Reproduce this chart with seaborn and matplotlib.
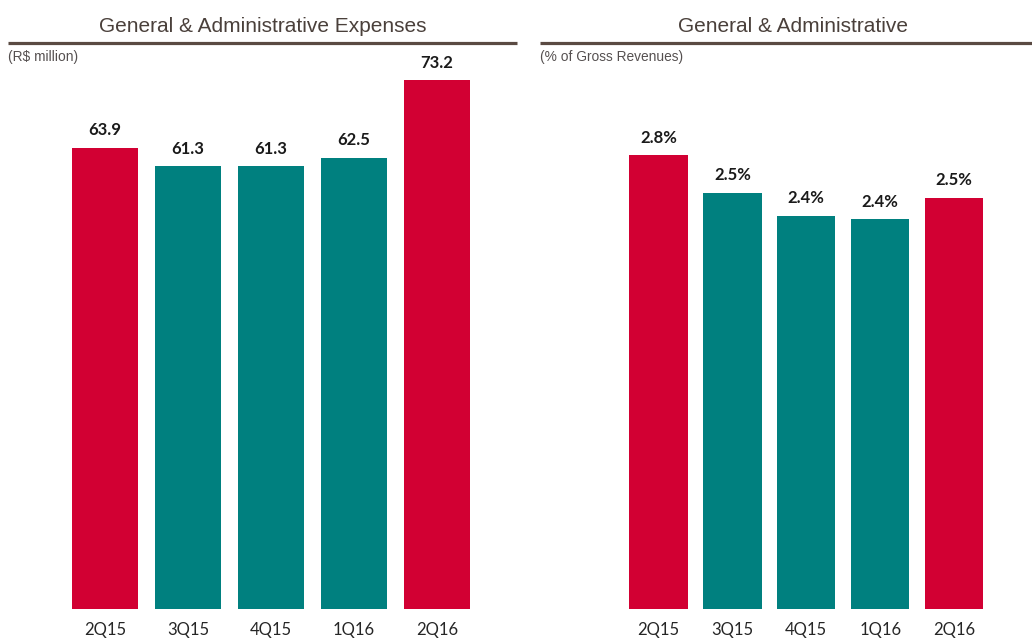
import matplotlib
matplotlib.use("Agg")
import matplotlib.pyplot as plt
from matplotlib.lines import Line2D
import seaborn as sns
import pandas as pd

quarters = ["2Q15", "3Q15", "4Q15", "1Q16", "2Q16"]
ga_expenses = [63.9, 61.3, 61.3, 62.5, 73.2]          # R$ million
ga_pct_revenue = [2.76, 2.53, 2.39, 2.37, 2.50]        # % of gross revenues
highlight = [True, False, False, False, True]

RED = "#D20033"
TEAL = "#00807F"
TITLE_COLOR = "#4A403B"
RULE_COLOR = "#5A4A42"
SUB_COLOR = "#555050"

sns.set_theme(style="white")
plt.rcParams["font.family"] = ["Liberation Sans", "DejaVu Sans"]

W, H = 1032, 639
fig = plt.figure(figsize=(W / 100, H / 100), dpi=100)


def px_x(x):
    return x / W


def px_y(y):
    return 1 - y / H


def panel(left_px, right_px, centre0_px, step_px, values, ymax, fmt,
          title, title_x, subtitle, width):
    ax = fig.add_axes([px_x(left_px), px_y(609), px_x(right_px - left_px), 609 / H])
    df = pd.DataFrame({"quarter": quarters, "value": values,
                       "kind": ["hl" if h else "base" for h in highlight]})
    sns.barplot(data=df, x="quarter", y="value", hue="kind",
                palette={"hl": RED, "base": TEAL}, width=width,
                dodge=False, legend=False, ax=ax, saturation=1,
                linewidth=0)
    ax.set_xlim((left_px - centre0_px) / step_px, (right_px - centre0_px) / step_px)
    ax.set_ylim(0, ymax)
    for s in ax.spines.values():
        s.set_visible(False)
    ax.set_yticks([])
    ax.set_xlabel("")
    ax.set_ylabel("")
    ax.tick_params(axis="x", length=0, pad=9)
    for lbl in ax.get_xticklabels():
        lbl.set_fontfamily(["Lato", "DejaVu Sans"])
        lbl.set_fontsize(12)
        lbl.set_color("#262626")
    for i, v in enumerate(values):
        ax.annotate(fmt(v), (i, v), xytext=(0, 12.5), textcoords="offset points",
                    ha="center", va="center", fontsize=12, fontweight="bold",
                    family=["Lato", "DejaVu Sans"], color="#1A1A1A",
                    annotation_clip=False)
    # panel heading with rule underneath
    fig.text(px_x(title_x), px_y(26), title,
             ha="center", va="center", fontsize=15, color=TITLE_COLOR)
    fig.add_artist(Line2D([px_x(left_px), px_x(right_px)], [px_y(42.7), px_y(42.7)],
                          color=RULE_COLOR, linewidth=2.3, solid_capstyle="butt"))
    fig.text(px_x(left_px), px_y(57), subtitle, ha="left", va="center",
             fontsize=9.9, color=SUB_COLOR)
    return ax


panel(8, 517, 105, 83, ga_expenses, 609 / 7.22, lambda v: f"{v:.1f}",
      "General & Administrative Expenses", 263, "(R$ million)", 0.795)
panel(540, 1032, 658.5, 73.9, ga_pct_revenue, 609 / 164.5, lambda v: f"{v:.1f}%",
      "General & Administrative", 793, "(% of Gross Revenues)", 0.79)

fig.savefig("out.png", dpi=100)
